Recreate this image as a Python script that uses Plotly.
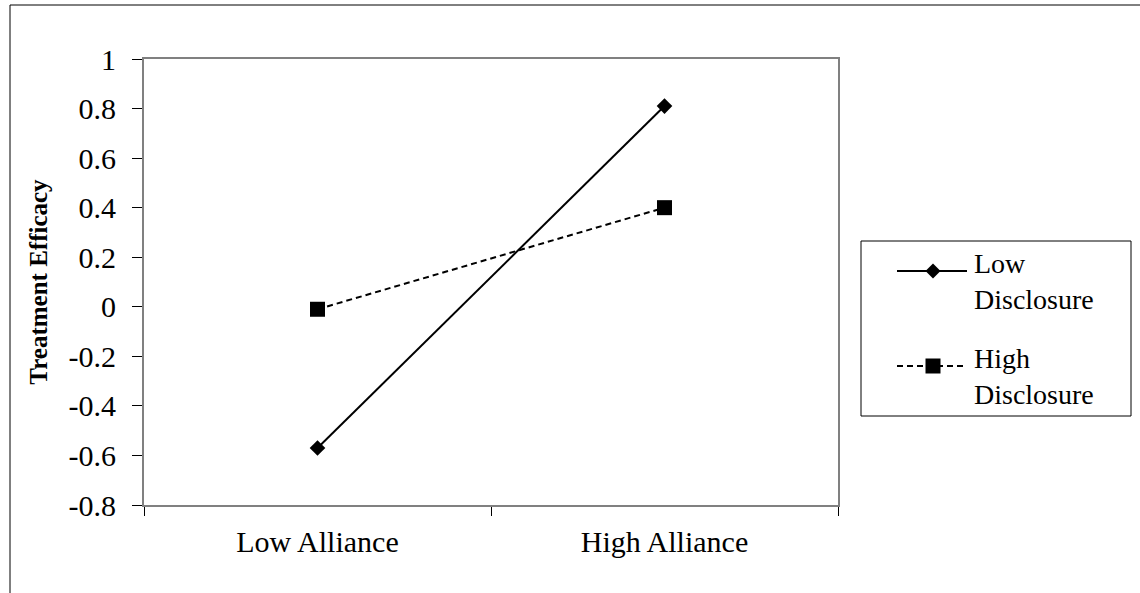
import plotly.graph_objects as go

categories = ["Low Alliance", "High Alliance"]
low_disclosure = [-0.57, 0.81]
high_disclosure = [-0.01, 0.40]
series_names = ["Low<br>Disclosure", "High<br>Disclosure"]
y_tickvals = [1, 0.8, 0.6, 0.4, 0.2, 0, -0.2, -0.4, -0.6, -0.8]
y_ticktext = ["1", "0.8", "0.6", "0.4", "0.2", "0", "-0.2", "-0.4", "-0.6", "-0.8"]
y_title = "Treatment Efficacy"

FONT = "Liberation Serif, Times New Roman, serif"

fig = go.Figure()
fig.add_trace(go.Scatter(
    x=categories, y=low_disclosure, mode="lines+markers",
    line=dict(color="black", width=2),
    marker=dict(symbol="diamond", size=12, color="black"),
    showlegend=False, cliponaxis=False))
fig.add_trace(go.Scatter(
    x=categories, y=high_disclosure, mode="lines+markers",
    line=dict(color="black", width=2, dash="6px,4px"),
    marker=dict(symbol="square", size=15, color="black"),
    showlegend=False, cliponaxis=False))

W, H = 1140, 593
L, R, T, B = 144, 302, 59, 88
pw = W - L - R
ph = H - T - B

def px_x(p):
    return (p - L) / pw

def px_y(p):
    return (H - B - p) / ph

shapes = []
# outer chart frame (left and top edges visible)
shapes.append(dict(type="line", xref="paper", yref="paper",
                   x0=px_x(10), x1=px_x(W + 5), y0=px_y(5), y1=px_y(5),
                   line=dict(color="black", width=1)))
shapes.append(dict(type="line", xref="paper", yref="paper",
                   x0=px_x(10), x1=px_x(10), y0=px_y(5), y1=px_y(H + 5),
                   line=dict(color="black", width=1)))
# legend box
shapes.append(dict(type="rect", xref="paper", yref="paper",
                   x0=px_x(861), x1=px_x(1131), y0=px_y(416), y1=px_y(241),
                   line=dict(color="black", width=1), fillcolor="white"))
leg_rows = [271, 366]
leg_dash = ["solid", "6px,4px"]
for ry, dsh in zip(leg_rows, leg_dash):
    shapes.append(dict(type="line", xref="paper", yref="paper",
                       x0=px_x(897), x1=px_x(967), y0=px_y(ry), y1=px_y(ry),
                       line=dict(color="black", width=2, dash=dsh)))
# legend markers (pixel-sized paths)
shapes.append(dict(type="path", xref="paper", yref="paper",
                   xsizemode="pixel", ysizemode="pixel",
                   xanchor=px_x(933), yanchor=px_y(leg_rows[0]),
                   path="M0,7.5 L7.5,0 L0,-7.5 L-7.5,0 Z",
                   fillcolor="black", line=dict(color="black", width=0)))
shapes.append(dict(type="path", xref="paper", yref="paper",
                   xsizemode="pixel", ysizemode="pixel",
                   xanchor=px_x(933), yanchor=px_y(leg_rows[1]),
                   path="M-7.5,-7.5 L7.5,-7.5 L7.5,7.5 L-7.5,7.5 Z",
                   fillcolor="black", line=dict(color="black", width=0)))

annotations = []
for name, cy in zip(series_names, [281, 376]):
    annotations.append(dict(text=name, xref="paper", yref="paper",
                            x=px_x(972), y=px_y(cy), xanchor="left", yanchor="middle",
                            align="left", showarrow=False,
                            font=dict(family=FONT, size=28, color="black")))

fig.update_layout(
    width=W, height=H,
    margin=dict(l=L, r=R, t=T, b=B, autoexpand=False),
    paper_bgcolor="white", plot_bgcolor="white",
    font=dict(family=FONT, size=30, color="black"),
    shapes=shapes, annotations=annotations,
    showlegend=False,
)
fig.update_xaxes(
    type="category", range=[-0.5, 1.5], tickson="boundaries",
    showgrid=False, zeroline=False,
    showline=True, linecolor="#808080", linewidth=2, mirror=True,
    ticks="outside", ticklen=9, tickcolor="black", tickwidth=1,
    ticklabelstandoff=9,
    tickfont=dict(family=FONT, size=30, color="black"),
)
fig.update_yaxes(
    range=[-0.8, 1], tickvals=y_tickvals, ticktext=y_ticktext,
    showgrid=False, zeroline=False,
    showline=True, linecolor="#808080", linewidth=2, mirror=True,
    ticks="outside", ticklen=10, tickcolor="black", tickwidth=1,
    ticklabelstandoff=10,
    tickfont=dict(family=FONT, size=30, color="black"),
    title=dict(text="<b>" + y_title + "</b>", font=dict(family=FONT, size=25, color="black"),
               standoff=14),
)

fig.write_html("out.html", config={"displayModeBar": False},
               post_script="document.body.style.margin='0';document.body.style.overflow='hidden';")
